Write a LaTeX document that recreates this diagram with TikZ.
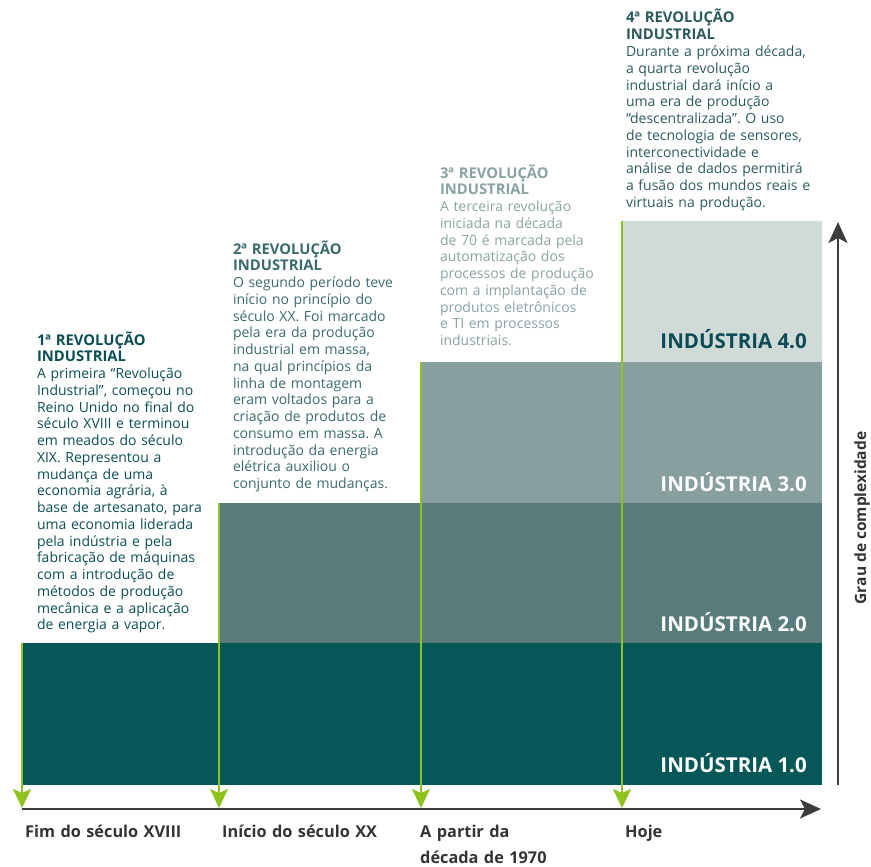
\documentclass[tikz,border=0pt]{standalone}
\usepackage{fontspec}
\setmainfont{Open Sans}
\usetikzlibrary{arrows.meta}
\definecolor{indA}{HTML}{065858}
\definecolor{indB}{HTML}{587C7C}
\definecolor{indC}{HTML}{879F9F}
\definecolor{indD}{HTML}{D0DBD8}
\definecolor{lime}{HTML}{8DC21F}
\definecolor{txtA}{HTML}{0B4E54}
\definecolor{txtB}{HTML}{3A6A6C}
\definecolor{txtC}{HTML}{8AA2A2}
\definecolor{txtD}{HTML}{2A5A5C}
\definecolor{axisgray}{HTML}{3C3C3C}
\definecolor{labgray}{HTML}{333333}
\definecolor{indlabdark}{HTML}{0C4A56}
\frenchspacing
\newcommand{\revhead}[1]{{\fontsize{14.8}{16.76}\selectfont\bfseries #1}}
\begin{document}
\begin{tikzpicture}[x=1pt,y=-1pt,
  block/.style={anchor=north west,inner sep=0pt,outer sep=0pt},
  desc/.style={anchor=base west,inner sep=0pt,outer sep=0pt,text width=230pt,align=left,
    font=\fontsize{14}{16.76}\selectfont},
  indlab/.style={anchor=base east,inner sep=0pt,font=\fontsize{20.5}{24}\selectfont\bfseries},
  timelab/.style={anchor=base west,inner sep=0pt,text=labgray,text width=180pt,font=\fontsize{16.3}{26}\selectfont\bfseries,align=left},
  era/.style={draw=lime,line width=1.8pt,-{Stealth[width=18pt,length=19pt,inset=4pt]}},
  axisline/.style={draw=axisgray,line width=1.6pt,-{Stealth[width=19pt,length=21pt,inset=5pt]}}
]
\useasboundingbox (0,0) rectangle (871,867);
% blocks
\node[block,fill=indA,minimum width=800pt,minimum height=142pt] (b1) at (22,643) {};
\node[block,fill=indB,minimum width=604pt,minimum height=140pt] (b2) at (218,503) {};
\node[block,fill=indC,minimum width=402pt,minimum height=141pt] (b3) at (420,362) {};
\node[block,fill=indD,minimum width=200pt,minimum height=141pt] (b4) at (622,221) {};
% industry labels
\node[indlab,text=white] (l1) at (807,772) {INDÚSTRIA 1.0};
\node[indlab,text=white] (l2) at (807,631) {INDÚSTRIA 2.0};
\node[indlab,text=white] (l3) at (807,491) {INDÚSTRIA 3.0};
\node[indlab,text=indlabdark] (l4) at (807,348) {INDÚSTRIA 4.0};
% axes
\coordinate (hx0) at (22,809);
\coordinate (hx1) at (821,809);
\coordinate (vy0) at (838,785);
\coordinate (vy1) at (838,222);
\draw[axisline] (hx0) -- (hx1);
\draw[axisline] (vy0) -- (vy1);
% era arrows
\coordinate (t1) at (22,808);
\coordinate (t2) at (219,808);
\coordinate (t3) at (421,808);
\coordinate (t4) at (622,808);
\draw[era] (b1.north west) -- (t1);
\draw[era] ([xshift=1pt]b2.north west) -- (t2);
\draw[era] ([xshift=1pt]b3.north west) -- (t3);
\draw[era] (b4.north west) -- (t4);
% descriptions
\node[desc,text=txtA] (d1) at (37,345) {\revhead{1ª REVOLUÇÃO}\\\revhead{INDUSTRIAL}\\
A primeira “Revolução\\Industrial”, começou no\\Reino Unido no final do\\século XVIII e terminou\\em meados do século\\XIX. Representou a\\mudança de uma\\economia agrária, à\\base de artesanato, para\\uma economia liderada\\pela indústria e pela\\fabricação de máquinas\\com a introdução de\\métodos de produção\\mecânica e a aplicação\\de energia a vapor.};
\node[desc,text=txtB] (d2) at (233,254) {\revhead{2ª REVOLUÇÃO}\\\revhead{INDUSTRIAL}\\
O segundo período teve\\início no princípio do\\século XX. Foi marcado\\pela era da produção\\industrial em massa,\\na qual princípios da\\linha de montagem\\eram voltados para a\\criação de produtos de\\consumo em massa. A\\introdução da energia\\elétrica auxiliou o\\conjunto de mudanças.};
\node[desc,text=txtC] (d3) at (440,178) {\revhead{3ª REVOLUÇÃO}\\\revhead{INDUSTRIAL}\\
A terceira revolução\\iniciada na década\\de 70 é marcada pela\\automatização dos\\processos de produção\\com a implantação de\\produtos eletrônicos\\e TI em processos\\industriais.};
\node[desc,text=txtD] (d4) at (626,23) {\revhead{4ª REVOLUÇÃO}\\\revhead{INDUSTRIAL}\\
Durante a próxima década,\\a quarta revolução\\industrial dará início a\\uma era de produção\\“descentralizada”. O uso\\de tecnologia de sensores,\\interconectividade e\\análise de dados permitirá\\a fusão dos mundos reais e\\virtuais na produção.};
% time labels
\node[timelab] (e1) at (25,837) {Fim do século XVIII};
\node[timelab] (e2) at (222,837) {Início do século XX};
\node[timelab] (e3) at (420,837) {A partir da\\década de 1970};
\node[timelab] (e4) at (625,837) {Hoje};
% vertical axis label
\node[rotate=90,inner sep=0pt,text=labgray,font=\fontsize{15.5}{16}\selectfont\bfseries] (ax) at (862,518) {Grau de complexidade};
\end{tikzpicture}
\end{document}
